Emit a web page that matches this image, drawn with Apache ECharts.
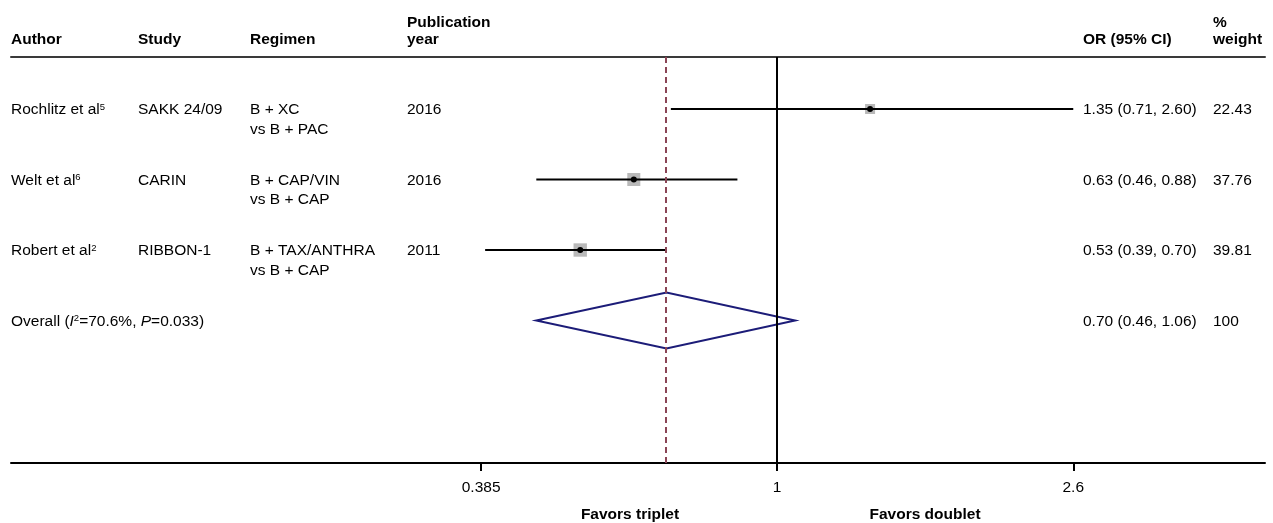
<!DOCTYPE html>
<html><head><meta charset="utf-8">
<script src="https://cdn.jsdelivr.net/npm/echarts@6/dist/echarts.min.js"></script>
<style>html,body{margin:0;padding:0;background:#fff}#c{width:1273px;height:523px}</style>
</head><body><div id="c"></div>
<script>
// ---- data ----
const authors = ['Rochlitz et al', 'Welt et al', 'Robert et al'];
const refs = ['5', '6', '2'];
const studies = ['SAKK 24/09', 'CARIN', 'RIBBON-1'];
const regimenLine1 = ['B + XC', 'B + CAP/VIN', 'B + TAX/ANTHRA'];
const regimenLine2 = ['vs B + PAC', 'vs B + CAP', 'vs B + CAP'];
const years = ['2016', '2016', '2011'];
const orValues = [1.35, 0.63, 0.53];
const ciLow = [0.71, 0.46, 0.39];
const ciHigh = [2.60, 0.88, 0.70];
const weights = [22.43, 37.76, 39.81];
const overallOR = 0.70, overallLow = 0.46, overallHigh = 1.06, overallWeight = '100';
const overallI2 = '70.6%', overallP = '0.033';
const tickValues = [0.385, 1, 2.6];
const tickLabels = ['0.385', '1', '2.6'];
const headers = ['Author', 'Study', 'Regimen', 'Publication\nyear', 'OR (95% CI)', '%\nweight'];
const favorsLabels = ['Favors triplet', 'Favors doublet'];

// ---- layout / style ----
const FONT = "'Liberation Sans', Arial, Helvetica, sans-serif";
const FS = 15.5;
const COL = [11, 138, 250, 407, 1083, 1213];
const LINE2 = 19.5;
const SQ_K = 2.12;
const ln = Math.log;

const RICH = {
  sup: {fontSize: 9.5, fontFamily: FONT, fill: '#000', verticalAlign: 'top'},
  it: {fontSize: FS, fontFamily: FONT, fill: '#000', fontStyle: 'italic'}
};

function txt(x, y, text, extra) {
  return {type: 'text', x: x, y: y, silent: true,
    style: Object.assign({text: text, fontSize: FS, fontFamily: FONT, fill: '#000',
      align: 'left', verticalAlign: 'middle'}, extra || {})};
}
const fmtCI = (o, l, h) => `${o.toFixed(2)} (${l.toFixed(2)}, ${h.toFixed(2)})`;

const chart = echarts.init(document.getElementById('c'), null, {renderer: 'canvas'});

// header graphics
const headerEls = [];
headers.forEach((h, i) => {
  const lines = h.split('\n');
  lines.forEach((t, j) => {
    const y = lines.length === 2 ? (j === 0 ? 23 : 40) : 40;
    headerEls.push(txt(COL[i], y, t, {fontWeight: 'bold'}));
  });
});
headerEls.push(txt(630, 515, favorsLabels[0], {fontWeight: 'bold', align: 'center'}));
headerEls.push(txt(925, 515, favorsLabels[1], {fontWeight: 'bold', align: 'center'}));

const X_MIN = -2.471, X_MAX = 1.574;

const option = {
  animation: false,
  backgroundColor: '#fff',
  grid: {left: 11, right: 8, top: 57, bottom: 60},
  xAxis: [{
    type: 'value', min: X_MIN, max: X_MAX, position: 'bottom',
    axisLine: {show: true, lineStyle: {color: '#000', width: 2}},
    axisTick: {show: true, length: 8, lineStyle: {color: '#000', width: 2},
      customValues: tickValues.map(ln)},
    axisLabel: {show: true, margin: 17, color: '#000', fontSize: FS, fontFamily: FONT,
      customValues: tickValues.map(ln),
      formatter: v => {
        const i = tickValues.findIndex(t => Math.abs(ln(t) - v) < 1e-6);
        return i >= 0 ? tickLabels[i] : '';
      }},
    splitLine: {show: false}
  }, {
    type: 'value', min: X_MIN, max: X_MAX, position: 'top',
    axisLine: {show: true, lineStyle: {color: '#3a3a3a', width: 2}},
    axisTick: {show: false}, axisLabel: {show: false}, splitLine: {show: false}
  }],
  yAxis: {type: 'value', min: 0.2624, max: 6.021, inverse: true, show: false},
  graphic: headerEls,
  series: [
    { // study table text
      type: 'custom', silent: true,
      data: authors.map((_, i) => [0, i + 1]),
      encode: {x: 0, y: 1},
      renderItem: (params, api) => {
        const i = params.dataIndex;
        const y = api.coord([0, api.value(1)])[1] + 1;
        return {type: 'group', children: [
          txt(COL[0], y, `${authors[i]}{sup|${refs[i]}}`, {rich: RICH}),
          txt(COL[1], y, studies[i]),
          txt(COL[2], y, regimenLine1[i]),
          txt(COL[2], y + LINE2, regimenLine2[i]),
          txt(COL[3], y, years[i]),
          txt(COL[4], y, fmtCI(orValues[i], ciLow[i], ciHigh[i])),
          txt(COL[5], y, weights[i].toFixed(2))
        ]};
      }
    },
    { // overall text
      type: 'custom', silent: true,
      data: [[0, authors.length + 1]],
      encode: {x: 0, y: 1},
      renderItem: (params, api) => {
        const y = api.coord([0, api.value(1)])[1] + 1;
        return {type: 'group', children: [
          txt(COL[0], y, `Overall ({it|I}{sup|2}=${overallI2}, {it|P}=${overallP})`, {rich: RICH}),
          txt(COL[4], y, fmtCI(overallOR, overallLow, overallHigh)),
          txt(COL[5], y, overallWeight)
        ]};
      }
    },
    { // study estimates
      type: 'custom', silent: true,
      data: orValues.map((v, i) => [ln(v), ln(ciLow[i]), ln(ciHigh[i]), i + 1, weights[i]]),
      encode: {x: [0, 1, 2], y: 3},
      renderItem: (params, api) => {
        const row = api.value(3);
        const c = api.coord([api.value(0), row]);
        const a = api.coord([api.value(1), row]);
        const b = api.coord([api.value(2), row]);
        const s = SQ_K * Math.sqrt(api.value(4));
        return {type: 'group', children: [
          {type: 'rect', shape: {x: c[0] - s / 2, y: c[1] - s / 2, width: s, height: s}, style: {fill: '#b9b9b9'}},
          {type: 'line', shape: {x1: a[0], y1: a[1], x2: b[0], y2: b[1]}, style: {stroke: '#000', lineWidth: 2}},
          {type: 'circle', shape: {cx: c[0], cy: c[1], r: 3}, style: {fill: '#000'}}
        ]};
      }
    },
    { // overall diamond + reference lines
      type: 'custom', silent: true,
      data: [[ln(overallOR), ln(overallLow), ln(overallHigh), authors.length + 1]],
      encode: {x: [0, 1, 2], y: 3},
      renderItem: (params, api) => {
        const row = api.value(3);
        const c = api.coord([api.value(0), row]);
        const a = api.coord([api.value(1), row]);
        const b = api.coord([api.value(2), row]);
        const h = 28;
        return {type: 'polygon', shape: {points: [[a[0], c[1]], [c[0], c[1] - h], [b[0], c[1]], [c[0], c[1] + h]]},
          style: {fill: 'none', stroke: '#1c1c78', lineWidth: 2}};
      },
      markLine: {
        silent: true, symbol: ['none', 'none'], label: {show: false},
        data: [
          {xAxis: 0, lineStyle: {color: '#000', width: 2, type: 'solid'}},
          {xAxis: ln(overallOR), lineStyle: {color: '#8a4556', width: 2, type: [6, 4]}}
        ]
      }
    }
  ]
};
chart.setOption(option);
</script>
</body></html>
